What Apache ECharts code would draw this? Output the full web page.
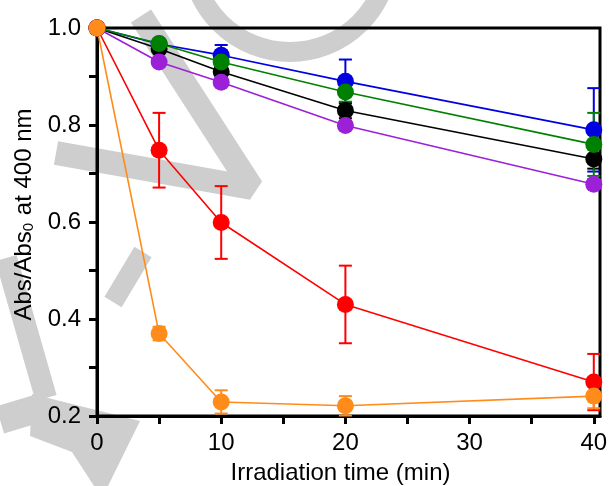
<!DOCTYPE html>
<html>
<head>
<meta charset="utf-8">
<script src="https://cdn.jsdelivr.net/npm/echarts@6/dist/echarts.min.js"></script>
<style>
  html, body { margin: 0; padding: 0; background: #fff; }
  #chart { width: 612px; height: 486px; }
</style>
</head>
<body>
<div id="chart"></div>
<script>
// irradiation times (min)
const times = [0, 5, 10, 20, 40];

// Abs/Abs0 values and error bars, one pair per sample
const blueVals = [1.0, 0.967, 0.944, 0.890, 0.790];
const blueErr = [0, 0, 0.021, 0.045, 0.086];
const blackVals = [1.0, 0.957, 0.910, 0.830, 0.730];
const blackErr = [0, 0, 0.010, 0.016, 0.020];
const greenVals = [1.0, 0.968, 0.930, 0.868, 0.760];
const greenErr = [0, 0, 0, 0.020, 0.065];
const purpleVals = [1.0, 0.930, 0.888, 0.799, 0.678];
const purpleErr = [0, 0, 0, 0, 0.010];
const redVals = [1.0, 0.748, 0.599, 0.430, 0.270];
const redErr = [0, 0.077, 0.075, 0.080, 0.058];
const orangeVals = [1.0, 0.370, 0.229, 0.221, 0.241];
const orangeErr = [0, 0.014, 0.024, 0.020, 0.025];

// axis ticks / labels
const xTicks = [0, 5, 10, 15, 20, 25, 30, 35, 40];
const xLabels = [0, 10, 20, 30, 40];
const yTicks = [0.2, 0.3, 0.4, 0.5, 0.6, 0.7, 0.8, 0.9, 1.0];
const yLabels = [0.2, 0.4, 0.6, 0.8, 1.0];

const samples = [
  { vals: blueVals, err: blueErr, color: '#0000e0' },
  { vals: blackVals, err: blackErr, color: '#000000' },
  { vals: greenVals, err: greenErr, color: '#008000' },
  { vals: purpleVals, err: purpleErr, color: '#9b20d8' },
  { vals: redVals, err: redErr, color: '#ff0000' },
  { vals: orangeVals, err: orangeErr, color: '#ff8c1a' }
];

const FONT = 'Liberation Sans, Arial, sans-serif';

function errorBars(color) {
  return function (params, api) {
    const x = api.value(0);
    const lo = api.coord([x, api.value(1)]);
    const hi = api.coord([x, api.value(2)]);
    const w = 6.5;
    const style = { stroke: color, lineWidth: 2 };
    return {
      type: 'group',
      children: [
        { type: 'line', shape: { x1: lo[0], y1: lo[1], x2: hi[0], y2: hi[1] }, style: style },
        { type: 'line', shape: { x1: lo[0] - w, y1: lo[1], x2: lo[0] + w, y2: lo[1] }, style: style },
        { type: 'line', shape: { x1: hi[0] - w, y1: hi[1], x2: hi[0] + w, y2: hi[1] }, style: style }
      ]
    };
  };
}

let series = [];
samples.forEach(function (s) {
  const bars = [];
  times.forEach(function (t, i) {
    if (s.err[i] > 0) bars.push([t, s.vals[i] - s.err[i], s.vals[i] + s.err[i]]);
  });
  series.push({
    type: 'custom',
    renderItem: errorBars(s.color),
    data: bars,
    encode: { x: 0, y: [1, 2] },
    clip: false,
    z: 2,
    silent: true
  });
});
samples.forEach(function (s) {
  series.push({
    type: 'line',
    data: times.map(function (t, i) { return [t, s.vals[i]]; }),
    symbol: 'circle',
    symbolSize: 17,
    color: s.color,
    lineStyle: { color: s.color, width: 1.6 },
    itemStyle: { color: s.color },
    clip: false,
    z: 3,
    animation: false
  });
});

// grey watermark in the background
const wm = { stroke: '#cecece', fill: null, lineWidth: 24, lineJoin: 'bevel', lineCap: 'butt' };
const graphic = [
  { type: 'circle', shape: { cx: 290, cy: -47, r: 99 }, style: Object.assign({}, wm, { lineWidth: 20 }), z: -10 },
  { type: 'polyline', shape: { points: [[141, 16], [252, 188], [56, 153]] }, style: wm, z: -10 },
  { type: 'polyline', shape: { points: [[143, 252], [113, 302]] }, style: Object.assign({}, wm, { lineWidth: 20 }), z: -10 },
  { type: 'polyline', shape: { points: [[6, 258], [46, 398]] }, style: Object.assign({}, wm, { lineWidth: 22 }), z: -10 },
  { type: 'polyline', shape: { points: [[0, 420], [46, 406]] }, style: Object.assign({}, wm, { lineWidth: 28 }), z: -10 },
  { type: 'polygon', shape: { points: [[32, 394], [140, 421], [108, 486], [94, 486], [72, 452], [30, 436]] },
    style: { fill: '#cecece' }, z: -10 }
];

const myChart = echarts.init(document.getElementById('chart'));
const option = {
  backgroundColor: '#ffffff',
  animation: false,
  graphic: graphic,
  grid: {
    left: 97, right: 12, top: 28, bottom: 70,
    outerBoundsMode: 'none',
    containLabel: false,
    show: true, borderColor: '#000', borderWidth: 3, backgroundColor: 'transparent'
  },
  xAxis: {
    type: 'value',
    min: 0, max: 40.5, interval: 5,
    name: 'Irradiation time (min)',
    nameLocation: 'middle',
    nameGap: 45,
    nameTextStyle: { fontSize: 24, fontFamily: FONT, color: '#000', padding: [0, 16, 0, 0] },
    axisLine: { lineStyle: { color: '#000', width: 3 } },
    axisTick: { customValues: xTicks, length: 8, lineStyle: { color: '#000', width: 3 } },
    axisLabel: { customValues: xLabels, fontSize: 24, fontFamily: FONT, color: '#000', margin: 15 },
    splitLine: { show: false }
  },
  yAxis: {
    type: 'value',
    min: 0.2, max: 1.0, interval: 0.1,
    name: 'Abs/Abs{sub|0} at 400 nm',
    nameLocation: 'middle',
    nameGap: 58,
    nameTextStyle: {
      fontSize: 24, fontFamily: FONT, color: '#000', padding: [0, 0, 0, 15],
      rich: { sub: { fontSize: 15, fontFamily: FONT, color: '#000', verticalAlign: 'bottom', padding: [0, 1, 0, 0] } }
    },
    axisLine: { lineStyle: { color: '#000', width: 3 } },
    axisTick: { customValues: yTicks, length: 8, lineStyle: { color: '#000', width: 3 } },
    axisLabel: {
      customValues: yLabels, fontSize: 24, fontFamily: FONT, color: '#000', margin: 16,
      formatter: function (v) { return v.toFixed(1); }
    },
    splitLine: { show: false }
  },
  series: series
};
myChart.setOption(option);
</script>
</body>
</html>
